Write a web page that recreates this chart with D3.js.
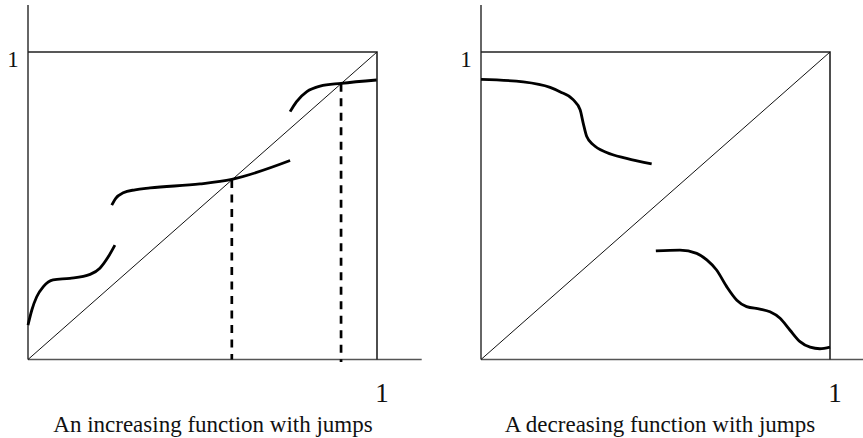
<!DOCTYPE html>
<html>
<head>
<meta charset="utf-8">
<script src="https://cdn.jsdelivr.net/npm/d3@7"></script>
<style>
  body { margin: 0; background: #fff; }
  text { font-family: "Liberation Serif", "DejaVu Serif", serif; fill: #111; }
</style>
</head>
<body>
<svg id="chart" width="863" height="438"></svg>
<script>
// unit-square coordinates
const incSeg1 = [[0, 0.112], [0.011, 0.161], [0.025, 0.204], [0.044, 0.237], [0.072, 0.259], [0.12, 0.264], [0.178, 0.277], [0.206, 0.297], [0.23, 0.334], [0.249, 0.372]]
const incSeg2 = [[0.24, 0.502], [0.252, 0.525], [0.273, 0.542], [0.307, 0.552], [0.35, 0.558], [0.493, 0.571], [0.584, 0.586], [0.751, 0.647]]
const incSeg3 = [[0.751, 0.806], [0.769, 0.838], [0.799, 0.871], [0.837, 0.889], [0.897, 0.898], [0.999, 0.909]]
const fixedPoints = [0.584, 0.897]

const decSeg1 = [[0, 0.911], [0.121, 0.903], [0.198, 0.885], [0.226, 0.871], [0.264, 0.845], [0.284, 0.812], [0.293, 0.768], [0.303, 0.725], [0.322, 0.698], [0.36, 0.673], [0.417, 0.654], [0.489, 0.636]]
const decSeg2 = [[0.501, 0.353], [0.57, 0.356], [0.618, 0.345], [0.647, 0.324], [0.675, 0.291], [0.704, 0.237], [0.733, 0.193], [0.761, 0.172], [0.799, 0.164], [0.828, 0.155], [0.857, 0.134], [0.885, 0.096], [0.914, 0.058], [0.943, 0.04], [0.971, 0.035], [1, 0.04]]

const titles = ['An increasing function with jumps', 'A decreasing function with jumps']
const tickLabel = '1'

const svg = d3.select('#chart')

const y = d3.scaleLinear().domain([0, 1]).range([359.5, 52])

function panel(x0, segs, title, titleX, axisEnd, dashes) {
  const x = d3.scaleLinear().domain([0, 1]).range([x0, x0 + 349])
  const g = svg.append('g')

  // axes
  g.append('line')
    .attr('x1', x(0)).attr('y1', y(0))
    .attr('x2', axisEnd).attr('y2', y(0))
    .attr('stroke', '#555').attr('stroke-width', 1.5)
  g.append('line')
    .attr('x1', x(0)).attr('y1', y(0))
    .attr('x2', x(0)).attr('y2', 5)
    .attr('stroke', '#333').attr('stroke-width', 1.5)

  // unit box
  g.append('path')
    .attr('d', d3.line()([[x(0), y(1)], [x(1), y(1)], [x(1), y(0)]]))
    .attr('fill', 'none').attr('stroke', '#222').attr('stroke-width', 1.6)

  // diagonal
  g.append('line')
    .attr('x1', x(0)).attr('y1', y(0))
    .attr('x2', x(1)).attr('y2', y(1))
    .attr('stroke', '#111').attr('stroke-width', 1)

  // dashed drops from fixed points
  g.selectAll('.drop')
    .data(dashes)
    .enter().append('line')
    .attr('class', 'drop')
    .attr('x1', d => x(d)).attr('y1', d => y(d))
    .attr('x2', d => x(d)).attr('y2', d => y(d) < 100 ? y(0) + 2.5 : y(0))
    .attr('stroke', '#000').attr('stroke-width', 2.7)
    .attr('stroke-dasharray', '8,6.5')

  // function pieces
  const line = d3.line()
    .x(d => x(d[0]))
    .y(d => y(d[1]))
    .curve(d3.curveMonotoneX)
  g.selectAll('.seg')
    .data(segs)
    .enter().append('path')
    .attr('class', 'seg')
    .attr('d', line)
    .attr('fill', 'none')
    .attr('stroke', '#000')
    .attr('stroke-width', 2.8)
    .attr('stroke-linecap', 'butt')

  // labels
  g.append('text')
    .attr('x', x(0) - 15).attr('y', y(1) + 15)
    .attr('text-anchor', 'middle')
    .attr('font-size', 23)
    .text(tickLabel)
  g.append('text')
    .attr('x', x(1) + 5).attr('y', 401.5)
    .attr('text-anchor', 'middle')
    .attr('font-size', 27)
    .text(tickLabel)
  g.append('text')
    .attr('x', titleX).attr('y', 431.5)
    .attr('text-anchor', 'middle')
    .attr('font-size', 23)
    .text(title)
}

panel(28, [incSeg1, incSeg2, incSeg3], titles[0], 213, 421.7, fixedPoints)
panel(481, [decSeg1, decSeg2], titles[1], 660, 863, [])
</script>
</body>
</html>
